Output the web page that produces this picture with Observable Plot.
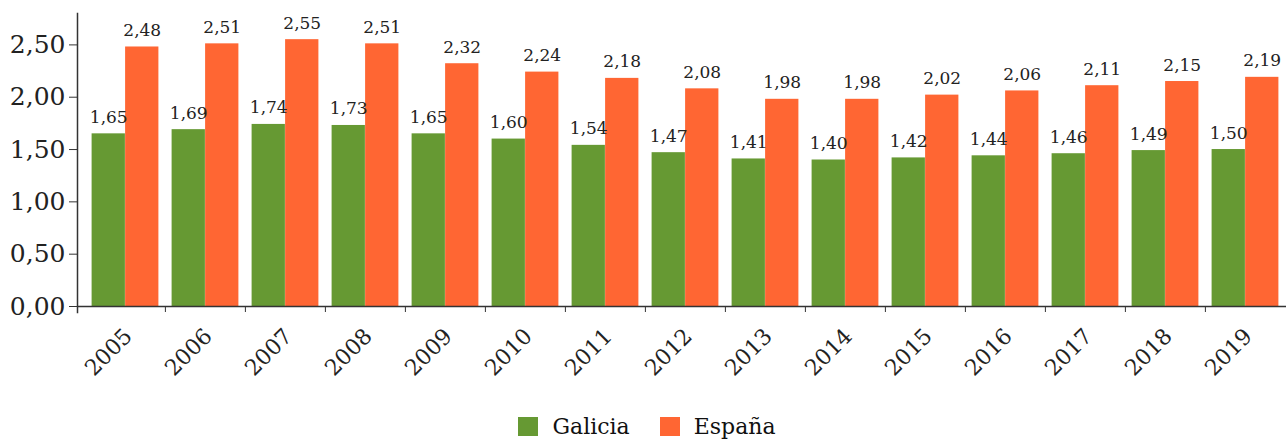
<!DOCTYPE html>
<html>
<head>
<meta charset="utf-8">
<script src="https://cdn.jsdelivr.net/npm/d3@7"></script>
<script src="https://cdn.jsdelivr.net/npm/@observablehq/plot@0.6"></script>
<style>
  html, body { margin: 0; padding: 0; background: #fff; }
  #chart { width: 1286px; }
  .legend { display: flex; justify-content: center; align-items: center; height: 31px; padding-top: 9px;
            font-family: "DejaVu Serif", serif; font-size: 22px; color: #111; padding-left: 8px; }
  .legend .item { display: flex; align-items: center; margin: 0 15px; }
  .legend .sw { width: 20px; height: 19px; margin-right: 14px; }
</style>
</head>
<body>
<div id="chart"></div>
<script>
const years = ["2005","2006","2007","2008","2009","2010","2011","2012","2013","2014","2015","2016","2017","2018","2019"];
const galicia = [1.65,1.69,1.74,1.73,1.65,1.60,1.54,1.47,1.41,1.40,1.42,1.44,1.46,1.49,1.50];
const espana  = [2.48,2.51,2.55,2.51,2.32,2.24,2.18,2.08,1.98,1.98,2.02,2.06,2.11,2.15,2.19];
const seriesNames = ["Galicia", "España"];
const seriesColors = ["#669933", "#ff6633"];
const yTicks = [0, 0.5, 1.0, 1.5, 2.0, 2.5];

const W = 1286, H = 402;
const mLeft = 77, bandStart = 83, mTop = 13, mBottom = 96;
const bw = (W - bandStart) / years.length;
const pad = 6.6;
const barW = (bw - 2 * pad) / 2;

const rowsG = years.map((y, i) => ({year: y, value: galicia[i]}));
const rowsE = years.map((y, i) => ({year: y, value: espana[i]}));
const fmt = v => d3.format(".2f")(v).replace(".", ",");

const plot = Plot.plot({
  width: W,
  height: H,
  marginLeft: mLeft,
  marginRight: 0,
  marginTop: mTop,
  marginBottom: mBottom,
  style: {fontFamily: "DejaVu Serif, serif", color: "#222", background: "#fff"},
  x: {domain: years, range: [bandStart, W], padding: 0, label: null},
  y: {domain: [0, 2.8], label: null},
  marks: [
    Plot.barY(rowsG, {x: "year", y: "value", fill: seriesColors[0], insetLeft: pad, insetRight: bw / 2}),
    Plot.barY(rowsE, {x: "year", y: "value", fill: seriesColors[1], insetLeft: bw / 2, insetRight: pad}),
    Plot.text(rowsG, {x: "year", y: "value", text: d => fmt(d.value), dx: -barW / 2, dy: -11, lineAnchor: "bottom", fontSize: 17, fill: "#222"}),
    Plot.text(rowsE, {x: "year", y: "value", text: d => fmt(d.value), dx: barW / 2, dy: -11, lineAnchor: "bottom", fontSize: 17, fill: "#222"}),
    Plot.ruleY([0], {stroke: "#333", strokeWidth: 1.5}),
    Plot.frame({anchor: "left", stroke: "#333", strokeWidth: 1.5, insetBottom: -6}),
    Plot.axisY({ticks: yTicks, tickFormat: fmt, tickSize: 8, tickPadding: 4, fontSize: 25, stroke: "#333", label: null}),
    Plot.axisX(years.slice(1), {tickSize: 6, tickFormat: () => "", dx: -bw / 2, stroke: "#333", label: null}),
    Plot.axisX({tickSize: 0, tickRotate: -45, fontSize: 22, tickPadding: 26, dx: 3, label: null})
  ]
});
document.getElementById("chart").appendChild(plot);

const legend = document.createElement("div");
legend.className = "legend";
seriesNames.forEach((name, i) => {
  const item = document.createElement("div");
  item.className = "item";
  const sw = document.createElement("span");
  sw.className = "sw";
  sw.style.background = seriesColors[i];
  const t = document.createElement("span");
  t.textContent = name;
  item.appendChild(sw);
  item.appendChild(t);
  legend.appendChild(item);
});
document.body.appendChild(legend);
</script>
</body>
</html>
